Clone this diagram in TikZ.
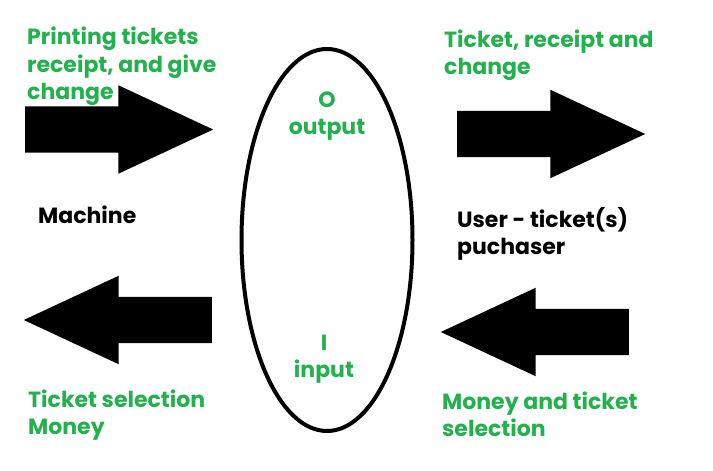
\documentclass[tikz,border=0pt]{standalone}
\usepackage{fontspec}
\setmainfont{Poppins}
\usetikzlibrary{shapes.geometric,shapes.arrows}
\definecolor{paintgreen}{RGB}{34,177,76}
\begin{document}
\begin{tikzpicture}[x=1pt,y=1pt]
\tikzset{bigarrow/.style={single arrow, fill=black, draw=none, inner sep=0pt, text height=0pt, text depth=0pt, inner ysep=23pt, single arrow head extend=21pt, single arrow tip angle=50, minimum height=188pt}}
\tikzset{lbl/.style={font=\fontsize{22}{27.5}\selectfont\bfseries, inner sep=0pt, align=left, anchor=base west}}
\useasboundingbox (0,0) rectangle (713,471);
\node[draw, ellipse, line width=4pt, inner sep=0pt, minimum width=171pt, minimum height=382pt] (IO) at (327,231) {};
\node[bigarrow, anchor=tail] (A1) at (25,341.5) {};
\node[bigarrow, anchor=tail] (A2) at (457,337) {};
\node[bigarrow, shape border rotate=180, anchor=tail] (A3) at (212,151) {};
\node[bigarrow, shape border rotate=180, anchor=tail] (A4) at (629,139) {};
\node[lbl, text=paintgreen] (T1) at (27,371) {Printing tickets\\receipt, and give\\change};
\node[lbl, text=paintgreen] (T2) at (444,396) {Ticket, receipt and\\change};
\node[lbl, text=paintgreen, align=center, anchor=base] (O) at (327,336) {O\\output};
\node[lbl] (M) at (38,247) {Machine};
\node[lbl] (U) at (457,216) {User - ticket(s)\\puchaser};
\node[lbl, text=paintgreen, align=center, anchor=base] (I) at (324,93) {I\\input};
\node[lbl, text=paintgreen] (T3) at (28,36) {Ticket selection\\Money};
\node[lbl, text=paintgreen] (T4) at (442,34) {Money and ticket\\selection};
\end{tikzpicture}
\end{document}
